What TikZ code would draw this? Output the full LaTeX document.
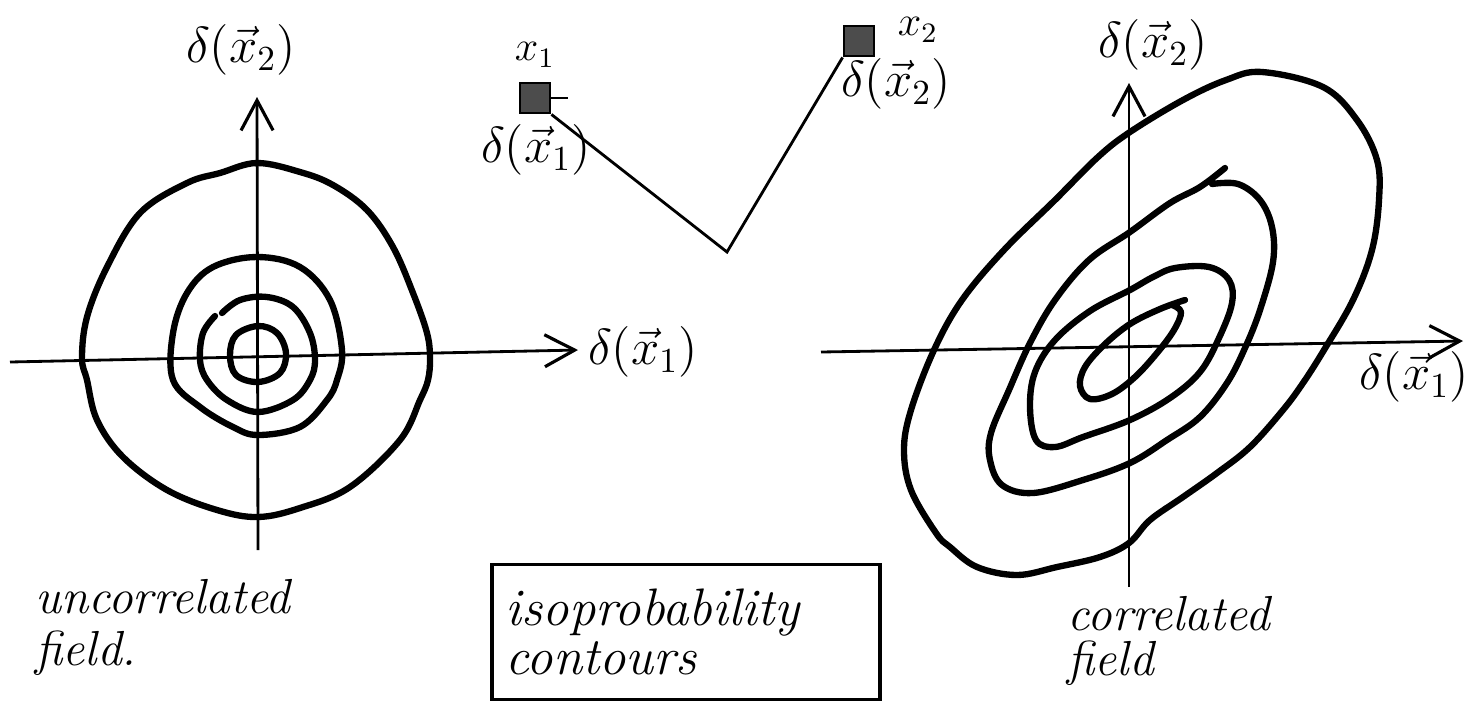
\documentclass[tikz,border=0pt]{standalone}
\usepackage{amsmath}
\usepackage{tikz}
\usetikzlibrary{arrows.meta,positioning,calc}

\begin{document}
\begin{tikzpicture}[
  x=0.01cm, y=-0.01cm,
  contour/.style={line width=1.8pt,line join=round,line cap=round},
  axisline/.style={line width=0.8pt,-{Straight Barb[length=3mm,width=3.2mm,line width=0.9pt]}},
  mathlbl/.style={font=\fontsize{14}{16}\selectfont,inner sep=0pt},
  handtext/.style={font=\fontsize{14}{16}\selectfont\itshape,inner sep=0pt},
  site/.style={rectangle,draw,thick,fill=black!70,minimum size=0.3cm,inner sep=0pt},
  probbox/.style={rectangle,draw,line width=1.1pt,text width=3.6cm,inner xsep=0.14cm,minimum height=1.35cm,align=left,font=\fontsize{15}{14}\selectfont\itshape},
  link/.style={line width=0.8pt}
]
  \useasboundingbox (0,0) rectangle (1466,702);

  % uncorrelated field (left)
  \draw[axisline] (10,362) -- (578,350);
  \draw[axisline] (258,550) -- (257,97);
  \node[mathlbl] (l2) at (241,50) {$\delta(\vec{x}_2)$};
  \node[mathlbl] (l1) at (643,352) {$\delta(\vec{x}_1)$};
  \draw[contour] plot[smooth cycle,tension=0.6] coordinates {(257,163) (300,172) (333,185) (367,210) (393,247) (413,293) (427,333) (430,358) (428,380) (420,400) (400,440) (350,487) (300,508) (258,517) (217,510) (167,490) (123,457) (97,420) (87,380) (82,358) (87,317) (107,267) (140,213) (187,183) (220,173)};
  \draw[contour] plot[smooth cycle,tension=0.6] coordinates {(257,257) (300,267) (330,300) (342,350) (337,380) (327,400) (300,427) (258,435) (233,427) (200,407) (173,380) (173,333) (187,293) (213,267)};
  \draw[contour] plot[smooth,tension=0.6] coordinates {(222,313) (240,300) (267,297) (293,307) (310,333) (315,360) (310,380) (293,400) (258,412) (227,400) (207,380) (200,360) (203,333) (215,316)};
  \draw[contour] plot[smooth cycle,tension=0.6] coordinates {(258,326) (277,333) (286,353) (280,373) (258,382) (236,375) (230,355) (236,335)};
  \node[handtext,anchor=base west] (uncor) at (35,613) {uncorrelated};
  \node[handtext,anchor=base west] (fielda) at ($(uncor.base west)+(0,52)$) {field.};

  % two sites
  \node[site] (sq1) at (535,98) {};
  \node[site] (sq2) at (859,41) {};
  \node[mathlbl,font=\fontsize{12}{14}\selectfont] (n1) at (535,55) {$x_1$};
  \node[mathlbl,font=\fontsize{12}{14}\selectfont] (n2) at (918,30) {$x_2$};
  \node[mathlbl] (d1) at (536,150) {$\delta(\vec{x}_1)$};
  \node[mathlbl] (d2) at (896,84) {$\delta(\vec{x}_2)$};
  \coordinate (vtx) at (727,252);
  \draw[link] (sq1.south east) -- (vtx) -- (sq2.south west);
  \draw[link] (sq1.east) -- ++(17,0);

  \node[probbox] (iso) at (686,632) {isoprobability\\contours};

  % correlated field (right)
  \draw[axisline] (821,352) -- (1463,341);
  \draw[axisline] (1129,587) -- (1129,83);
  \node[mathlbl] (r2) at (1153,45) {$\delta(\vec{x}_2)$};
  \node[mathlbl] (r1) at (1414,377) {$\delta(\vec{x}_1)$};
  \draw[contour] plot[smooth cycle,tension=0.6] coordinates {(1262,72) (1323,87) (1357,120) (1377,160) (1379,200) (1372,250) (1353,300) (1324,350) (1303,383) (1283,410) (1250,447) (1217,473) (1183,497) (1150,520) (1129,543) (1100,557) (1057,567) (1017,575) (977,567) (950,547) (936,533) (911,490) (904,450) (911,410) (934,350) (962,300) (1004,250) (1055,200) (1098,157) (1130,132) (1183,100) (1226,80)};
  \draw[contour] plot[smooth,tension=0.6] coordinates {(1225,168) (1200,187) (1170,203) (1130,232) (1089,260) (1055,300) (1030,343) (1009,390) (991,433) (990,460) (1002,485) (1033,493) (1083,480) (1130,463) (1167,440) (1200,417) (1227,383) (1245,348) (1260,310) (1273,262) (1272,227) (1260,200) (1238,184) (1212,184)};
  \draw[contour] plot[smooth cycle,tension=0.6] coordinates {(1130,290) (1153,277) (1175,268) (1209,267) (1229,280) (1232,303) (1219,338) (1200,372) (1170,398) (1130,420) (1083,437) (1055,447) (1036,440) (1030,407) (1035,372) (1055,340) (1090,311)};
  \draw[contour] plot[smooth,tension=0.6] coordinates {(1185,300) (1160,309) (1130,324) (1104,345) (1085,367) (1080,386) (1090,399) (1112,394) (1135,377) (1157,353) (1174,330) (1181,312) (1172,305)};
  \node[handtext,anchor=base west] (corr) at (1067,630) {correlated};
  \node[handtext,anchor=base west] (fieldb) at ($(corr.base west)+(0,45)$) {field};
\end{tikzpicture}
\end{document}
